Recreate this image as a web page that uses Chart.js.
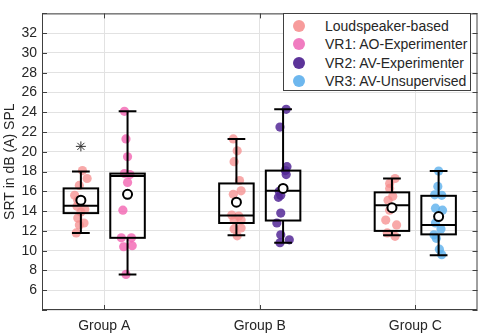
<!DOCTYPE html>
<html>
<head>
<meta charset="utf-8">
<script src="https://cdn.jsdelivr.net/npm/chart.js@4/dist/chart.umd.min.js"></script>
<style>
  html, body { margin: 0; padding: 0; background: #fff; }
  #wrap { position: relative; width: 484px; height: 336px; }
  #legend {
    position: absolute; left: 283px; top: 13px; width: 188px; height: 78px;
    border: 1px solid #404040; background: #fff; box-sizing: border-box;
    font-family: "Liberation Sans", Arial, sans-serif; font-size: 14px; color: #262626;
  }
  #legend .row { position: absolute; left: 0; height: 18px; line-height: 18px; white-space: nowrap; }
  #legend .dot { position: absolute; left: 9px; top: 3px; width: 12px; height: 12px; border-radius: 50%; }
  #legend .txt { position: absolute; left: 41px; top: 0; }
</style>
</head>
<body>
<div id="wrap">
  <canvas id="chart" width="484" height="336"></canvas>
  <div id="legend"></div>
</div>
<script>
document.addEventListener("DOMContentLoaded", function () {
    const groups = ["Group A", "Group B", "Group C"];
    const seriesNames = ["Loudspeaker-based", "VR1: AO-Experimenter", "VR2: AV-Experimenter", "VR3: AV-Unsupervised"];
    const seriesColors = ["rgba(246,140,140,0.75)", "rgba(242,100,178,0.8)", "rgba(84,40,150,0.85)", "rgba(92,176,236,0.8)"];
    const legendColors = ["#f79b9b", "#f07cc0", "#5c3399", "#6db7ee"];

    // box positions (x units, groups at 1,2,3) and which series each box belongs to
    const boxPos = [0.85, 1.15, 1.85, 2.15, 2.85, 3.15];
    const boxSeries = [0, 1, 0, 2, 0, 3];
    const whiskerLo = [11.8, 7.6, 11.55, 10.8, 11.55, 9.55];
    const q1 = [13.8, 11.3, 12.8, 13.05, 12.0, 11.65];
    const median = [14.55, 17.55, 13.55, 16.05, 14.6, 12.6];
    const q3 = [16.3, 17.8, 16.8, 18.1, 15.9, 15.55];
    const whiskerHi = [18.0, 24.1, 21.3, 24.3, 17.3, 18.05];
    const means = [15.1, 15.7, 14.9, 16.3, 14.35, 13.45];

    const outlierPos = [0.85];
    const outlierVal = [20.55];

    // individual scores per box, with small horizontal jitter
    const scores = [
        [18.1, 17.3, 16.6, 15.6, 15.1, 14.5, 14.2, 13.9, 13.3, 12.8, 12.6, 11.8],
        [24.1, 21.3, 19.5, 17.8, 17.7, 16.9, 14.1, 11.3, 11.3, 10.4, 10.5, 7.6],
        [21.3, 20.1, 19.0, 17.1, 16.05, 15.7, 13.6, 13.5, 13.1, 13.1, 12.3, 12.2, 11.5],
        [24.3, 22.5, 18.5, 18.1, 17.7, 16.0, 15.6, 15.4, 13.8, 12.8, 11.6, 11.1, 10.8],
        [17.3, 16.8, 16.3, 15.5, 15.1, 14.1, 13.1, 12.6, 11.8, 11.45],
        [18.05, 16.5, 15.65, 15.6, 14.3, 14.1, 12.8, 12.2, 11.6, 11.25, 10.15, 9.6]
    ];
    const jitter = [
        [0.01, 0.04, -0.01, -0.04, -0.02, -0.025, 0.025, 0.0, -0.02, 0.02, -0.01, -0.03],
        [-0.02, -0.01, 0.0, -0.02, 0.015, 0.0, -0.03, -0.04, 0.025, -0.025, 0.03, -0.01],
        [-0.02, 0.005, -0.015, 0.02, 0.03, -0.02, -0.03, 0.015, -0.015, 0.03, 0.03, -0.015, 0.005],
        [0.02, -0.02, 0.025, 0.015, 0.02, -0.025, -0.015, -0.03, -0.015, -0.04, -0.015, 0.04, -0.02],
        [0.02, -0.015, -0.015, 0.005, -0.025, -0.015, -0.04, 0.03, -0.03, 0.02],
        [0.0, -0.005, -0.025, 0.02, -0.02, 0.025, -0.02, 0.015, -0.03, -0.015, 0.005, 0.02]
    ];

    const font = { family: "'Liberation Sans', Arial, sans-serif", size: 14 };
    const textColor = "#262626";
    const frameColor = "#404040";

    // one scatter dataset per series
    const pointSets = seriesNames.map((name, s) => {
        const pts = [];
        boxSeries.forEach((bs, b) => {
            if (bs !== s) return;
            scores[b].forEach((v, i) => pts.push({ x: boxPos[b] + jitter[b][i], y: v }));
        });
        return {
            label: name,
            type: "scatter",
            data: pts,
            pointRadius: 4.6,
            pointBackgroundColor: seriesColors[s],
            pointBorderWidth: 0,
            order: 2
        };
    });

    const meanSet = {
        label: "mean",
        type: "scatter",
        data: boxPos.map((p, i) => ({ x: p, y: means[i] })),
        pointRadius: 4.5,
        pointBackgroundColor: "#fff",
        pointBorderColor: "#000",
        pointBorderWidth: 2,
        order: 0
    };

    const outlierSet = {
        label: "outlier",
        type: "scatter",
        data: outlierPos.map((p, i) => ({ x: p, y: outlierVal[i] })),
        pointStyle: "star",
        pointRadius: 5,
        pointBorderColor: "#333",
        pointBorderWidth: 1,
        order: 1
    };

    const boxPlugin = {
        id: "boxes",
        beforeDatasetDraw(chart, args) {
            if (chart.data.datasets[args.index].label !== "mean") return;
            const xs = chart.scales.x, ys = chart.scales.y, ctx = chart.ctx;
            const halfBox = 0.111, halfCap = 0.057;
            ctx.save();
            ctx.strokeStyle = "#000";
            ctx.lineWidth = 2;
            boxPos.forEach((p, i) => {
                const xl = xs.getPixelForValue(p - halfBox), xr = xs.getPixelForValue(p + halfBox);
                const xc = xs.getPixelForValue(p);
                const cl = xs.getPixelForValue(p - halfCap), cr = xs.getPixelForValue(p + halfCap);
                const yq1 = ys.getPixelForValue(q1[i]), yq3 = ys.getPixelForValue(q3[i]);
                const ylo = ys.getPixelForValue(whiskerLo[i]), yhi = ys.getPixelForValue(whiskerHi[i]);
                const ym = ys.getPixelForValue(median[i]);
                ctx.beginPath();
                ctx.moveTo(xc, yq3); ctx.lineTo(xc, yhi);
                ctx.moveTo(cl, yhi); ctx.lineTo(cr, yhi);
                ctx.moveTo(xc, yq1); ctx.lineTo(xc, ylo);
                ctx.moveTo(cl, ylo); ctx.lineTo(cr, ylo);
                ctx.moveTo(xl, ym); ctx.lineTo(xr, ym);
                ctx.stroke();
                ctx.strokeRect(xl, yq3, xr - xl, yq1 - yq3);
            });
            ctx.restore();
        },
        afterDatasetsDraw(chart) {
            const a = chart.chartArea, ctx = chart.ctx;
            const xs = chart.scales.x, ys = chart.scales.y;
            ctx.save();
            ctx.strokeStyle = frameColor;
            ctx.lineWidth = 1;
            ctx.strokeRect(a.left + 0.5, a.top + 0.5, a.right - a.left - 1, a.bottom - a.top - 1);
            ctx.beginPath();
            ys.ticks.forEach(t => {
                const y = Math.round(ys.getPixelForValue(t.value)) + 0.5;
                ctx.moveTo(a.left, y); ctx.lineTo(a.left + 5, y);
                ctx.moveTo(a.right, y); ctx.lineTo(a.right - 5, y);
            });
            xs.ticks.forEach(t => {
                const x = Math.round(xs.getPixelForValue(t.value)) + 0.5;
                ctx.moveTo(x, a.bottom); ctx.lineTo(x, a.bottom - 5);
                ctx.moveTo(x, a.top); ctx.lineTo(x, a.top + 5);
            });
            ctx.stroke();
            ctx.restore();
        }
    };

    new Chart(document.getElementById("chart").getContext("2d"), {
        type: "scatter",
        data: { datasets: [...pointSets, outlierSet, meanSet] },
        options: {
            responsive: false,
            animation: false,
            layout: { padding: { top: 3, right: 2, left: 0, bottom: 0 } },
            plugins: { legend: { display: false }, tooltip: { enabled: false } },
            scales: {
                x: {
                    type: "linear",
                    min: 0.6,
                    max: 3.4,
                    afterBuildTicks: s => { s.ticks = [1, 2, 3].map(v => ({ value: v })); },
                    afterFit: s => { s.height = 26; },
                    ticks: { callback: v => groups[v - 1], font, color: textColor, padding: 8, maxRotation: 0, autoSkip: false },
                    grid: { color: "#e2e2e2", drawTicks: false },
                    border: { display: false }
                },
                y: {
                    min: 4,
                    max: 34,
                    afterFit: s => { s.width = 42; },
                    ticks: {
                        stepSize: 2,
                        autoSkip: false,
                        callback: v => (v === 4 || v === 34) ? "" : v,
                        font, color: textColor, padding: 5
                    },
                    grid: { color: "#e2e2e2", drawTicks: false },
                    border: { display: false },
                    title: { display: true, text: "SRT in dB (A) SPL", font, color: textColor, padding: { top: 2, bottom: 0 } }
                }
            }
        },
        plugins: [boxPlugin]
    });

    // legend as html, placed inside the plot frame
    const legend = document.getElementById("legend");
    seriesNames.forEach((name, i) => {
        const row = document.createElement("div");
        row.className = "row";
        row.style.top = (3 + i * 18.3) + "px";
        row.innerHTML = '<span class="dot" style="background:' + legendColors[i] + '"></span><span class="txt">' + name + '</span>';
        legend.appendChild(row);
    });
});
</script>
</body>
</html>
